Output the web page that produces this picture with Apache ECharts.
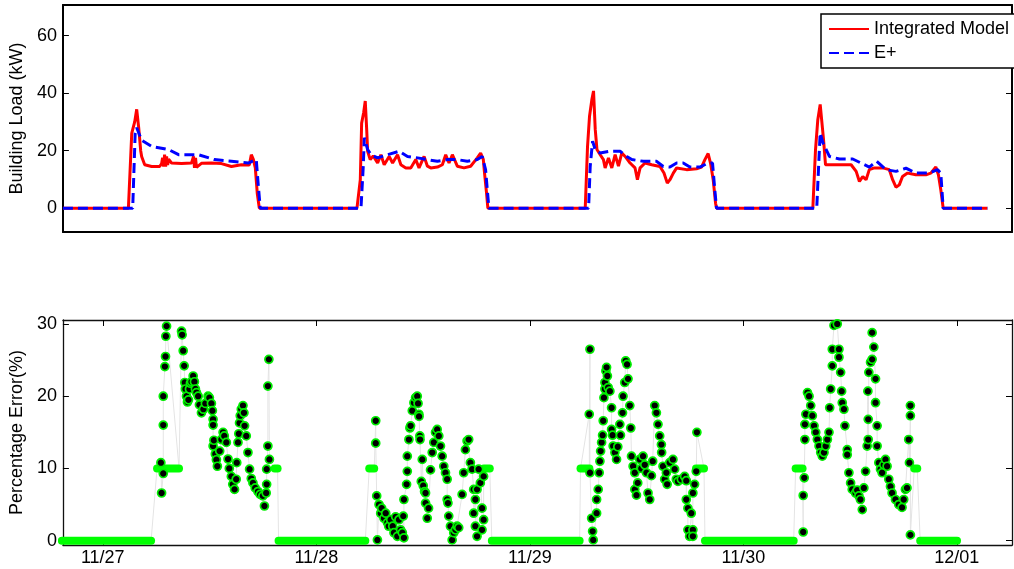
<!DOCTYPE html>
<html><head><meta charset="utf-8">
<script src="https://cdn.jsdelivr.net/npm/echarts@6/dist/echarts.min.js"></script>
<style>html,body{margin:0;padding:0;background:#fff}#c{width:1014px;height:569px}</style>
</head><body><div id="c"></div><script>
// ---- Top panel: building load (kW) vs hours since start ----
const integratedModel = [
 [0,0],[6.88,0],[7.23,26],[7.38,28],[7.54,30],[7.75,34.4],[7.96,28],[8.17,20],[8.27,18],[8.59,15.1],[9.32,14.5],[10.16,14.5],[10.37,15.5],[10.47,17.5],[10.58,14.5],[10.68,18.6],[10.79,14.5],[10.89,18],[11.0,15],[11.10,17],[11.41,15.7],[12.46,15.5],[13.51,15.7],[13.72,18],[13.82,14],[13.93,17.5],[14.03,14.2],[14.55,15.6],[15.60,15.7],[16.65,15.5],[17.70,14.5],[18.74,15.1],[19.58,15],[19.79,18.6],[20.0,17],[20.21,14],[20.42,5],[20.63,0],
 [30.89,0],[31.24,9.9],[31.38,29.6],[31.59,33.2],[31.76,37.3],[31.91,27.4],[32.01,19.8],[32.28,16.9],[32.6,18.2],[33.06,15.7],[33.40,18.6],[33.75,15.1],[34.27,18],[34.63,15.7],[35.15,18.6],[35.50,15.1],[36.02,14],[36.54,14],[37.07,16.9],[37.41,14],[37.94,18],[38.29,14.6],[38.64,14],[39.34,14.3],[39.86,15.1],[40.21,18.6],[40.56,15.7],[40.91,18.6],[41.43,14.6],[42.13,14],[42.83,14.6],[43.53,17.5],[43.88,19.2],[44.16,17],[44.29,12.2],[44.50,5.2],[44.64,0],
 [54.87,0],[55.11,21.5],[55.32,32],[55.57,37.9],[55.74,40.8],[55.92,27.4],[56.10,20.4],[56.44,18.6],[56.78,16.9],[56.96,14],[57.31,17.5],[57.66,14],[58.01,18.6],[58.36,14.6],[58.71,19.2],[59.06,18],[59.58,15.7],[60.10,14],[60.35,9.9],[60.63,14],[61.15,15.7],[61.85,15.1],[62.72,14.5],[63.14,12.2],[63.49,8.7],[63.77,9.9],[64.12,12.2],[64.47,14],[65.51,13.4],[66.56,13.7],[67.09,14.3],[67.44,16.9],[67.78,19],[68.03,15.7],[68.31,9.9],[68.56,1.7],[68.66,0],
 [78.78,0],[79.06,20.4],[79.30,30.8],[79.55,36.1],[79.72,36.7],[79.90,23.9],[80.11,15.1],[80.88,15.1],[81.92,15.1],[82.80,15.1],[83.33,12.8],[83.67,9.3],[84.02,11],[84.37,9.9],[84.71,13.4],[85.24,14],[86.11,14],[86.81,13.4],[87.16,9.9],[87.51,7.3],[87.86,8.1],[88.20,11],[88.73,12.2],[89.60,11.6],[90.65,11.6],[91.17,12.2],[91.70,14.3],[91.97,11.6],[92.22,6.4],[92.47,0],[97.11,0]
];
const energyPlus = [
 [0,0],[7.33,0],[7.59,26],[7.75,28],[8.27,23.6],[9.32,21.5],[11.10,20.4],[12.15,18.6],[14.24,18.6],[15.92,16.9],[17.70,16.3],[19.48,15.7],[20.31,16.9],[20.52,8],[20.73,0],
 [31.31,0],[31.55,14.5],[31.66,24.5],[32.01,20.4],[32.36,18.6],[33.06,17.5],[34.11,18.6],[35.32,19.8],[36.20,18],[37.25,17.5],[38.29,16.9],[39.34,16.3],[40.39,16.9],[41.43,16.9],[42.48,16.3],[43.53,16.9],[44.05,18],[44.40,13.4],[44.58,6.4],[44.75,0],
 [55.22,0],[55.39,14.5],[55.64,23.3],[55.92,20.4],[56.44,19.2],[57.49,19.8],[58.53,19.8],[59.23,18],[59.76,16.9],[60.97,16.3],[62.37,16.3],[63.07,14.5],[63.77,14.3],[64.47,15.7],[65.16,15.7],[65.86,14.3],[66.91,14.3],[67.78,15.7],[68.24,15.7],[68.48,6.4],[68.66,0],
 [79.19,0],[79.40,15.7],[79.55,26.2],[79.82,22.9],[80.52,18],[81.57,17.1],[82.97,17.1],[83.84,15.7],[84.71,14.3],[85.48,16.3],[86.46,13.4],[87.51,12.8],[88.56,13.9],[89.60,12.2],[91.0,12.2],[91.87,13.4],[92.22,12.2],[92.47,0],[97.11,0]
];
const loadTicks = [0, 20, 40, 60];

// ---- Bottom panel: percentage error vs hours since 11/27 00:00 ----
const errorsDay1 = [[6.53,10.8],[6.61,6.6],[6.80,9.3],[6.80,16],[6.80,20],[6.98,24.1],[7.05,25.5],[7.09,28.3],[7.17,29.7],[8.85,29],[8.92,28.5],[9.04,26.3],[9.15,24.2],[9.22,21.9],[9.29,21],[9.41,20],[9.52,19.2],[9.63,19.5],[9.74,21],[9.85,21.8],[9.97,22],[10.16,22.8],[10.30,22],[10.41,21],[10.53,20.5],[10.72,20],[10.86,18.8],[11.09,17.7],[11.31,18.2],[11.53,19],[11.84,20],[11.98,19.8],[12.21,19],[12.32,18],[12.40,16.8],[12.40,16],[12.40,13.1],[12.49,13.9],[12.65,12],[12.77,11.2],[12.88,10.3],[13.14,12.4],[13.33,14],[13.52,15],[13.66,14.5],[13.89,13.6],[14.08,11.3],[14.22,10],[14.45,8.9],[14.61,7.8],[14.81,7.1],[15.0,8.5],[15.06,10.8],[15.20,13.6],[15.29,14.8],[15.37,16.3],[15.45,17.3],[15.57,18.2],[15.76,18.7],[15.87,17.7],[15.94,15.9],[16.13,14.5],[16.32,12.2],[16.50,9.9],[16.69,8.6],[16.88,8],[17.13,7.3],[17.44,6.8],[17.69,6.4],[17.99,6.2],[18.17,4.8],[18.37,6.6],[18.42,7.8],[18.42,9.9],[18.56,13.1],[18.56,21.4],[18.67,25.1],[18.73,11.25]];
const errorsDay2 = [[30.68,16.6],[30.68,13.5],[30.79,6.2],[30.87,0.1],[31.05,5],[31.24,3.8],[31.35,4.5],[31.61,3.1],[31.80,3.8],[31.99,2.5],[32.14,2],[32.36,2.9],[32.59,2],[32.73,1.1],[32.92,3.3],[33.11,0.6],[33.29,2.9],[33.48,1.5],[33.67,1.1],[33.78,3.4],[33.85,0.4],[33.85,5.7],[34.15,7.8],[34.23,9.6],[34.23,11.7],[34.41,14],[34.52,15.6],[34.60,15.9],[34.79,18],[34.97,19.1],[35.16,19.8],[35.35,20],[35.44,19],[35.53,17.5],[35.55,17.2],[35.64,14.5],[35.66,14],[35.80,8.2],[35.91,11.25],[36.02,7.6],[36.17,6.8],[36.28,6.6],[36.28,5.2],[36.47,3.1],[36.62,4.5],[36.84,9.8],[37.03,12.2],[37.21,13.6],[37.40,15],[37.59,15.4],[37.77,14.5],[37.96,13.1],[38.15,11.7],[38.33,10.3],[38.52,9.4],[38.71,8.5],[38.71,5.7],[38.80,5.2],[38.89,3.4],[39.08,2],[39.27,0.1],[39.45,1.1],[39.64,1.5],[39.83,2],[40.01,1.8],[40.39,6.4],[40.57,9.4],[40.76,12.6],[40.95,13.8],[41.13,14],[41.32,10.8],[41.51,9.9],[41.69,7.1],[41.69,3.8],[41.88,5.7],[41.88,2],[42.07,0.6],[42.07,7.1],[42.25,9.9],[42.44,8],[42.63,4.5],[42.63,1.5],[42.81,2.9],[42.81,8.9]];
const errorsDay3 = [[54.68,17.5],[54.76,26.5],[54.76,9.4],[54.95,3.1],[55.06,1.3],[55.13,0.1],[55.51,3.8],[55.51,5.7],[55.69,7.1],[55.80,9.4],[55.88,11],[55.96,12.4],[56.07,13.6],[56.18,14.6],[56.25,16.6],[56.33,19.8],[56.44,21],[56.44,21.9],[56.55,23.5],[56.63,24],[56.72,22.8],[56.81,21.2],[57.0,20.7],[57.19,18.4],[57.19,15.4],[57.30,14.6],[57.37,13.1],[57.56,12.2],[57.75,11.25],[57.89,13],[58.12,16.1],[58.19,14.6],[58.42,17.7],[58.48,20],[58.67,21.9],[58.78,24.9],[58.93,24.4],[59.04,22.4],[59.24,18.7],[59.35,15.6],[59.43,11.7],[59.61,10.3],[59.80,9.4],[59.80,7.1],[59.99,6.3],[60.13,8],[60.36,11.25],[60.53,10],[60.73,11.7],[60.92,10.5],[61.11,9.4],[61.29,6.6],[61.48,5.7],[61.67,9],[61.81,11],[62.04,18.7],[62.23,17.7],[62.41,16.1],[62.60,14.5],[62.79,13.3],[62.82,12.2],[62.97,10.3],[63.16,8.5],[63.35,9.4],[63.44,7.8],[63.72,10.8],[64.09,11.25],[64.28,9.9],[64.47,8.5],[64.65,8.2],[65.03,8.5],[65.40,8.9],[65.59,8.3],[65.59,5.7],[65.77,4.5],[65.77,1.5],[65.96,0.6],[66.15,3.8],[66.33,1.5],[66.33,0.6],[66.33,6.6],[66.52,7.8],[66.71,9.6],[66.78,15]];
const errorsDay4 = [[78.73,1.2],[78.73,6.25],[78.85,8.7],[78.92,14],[78.92,16.1],[79.03,17.5],[79.21,20.5],[79.39,20],[79.58,18.7],[79.76,17.3],[79.95,15.9],[80.14,15],[80.32,14],[80.51,13.1],[80.70,12.2],[80.88,11.7],[81.07,12.2],[81.26,13.1],[81.45,14],[81.63,15],[81.71,18.4],[81.82,21],[82.00,24.2],[82.00,26.5],[82.19,29.8],[82.56,30],[82.75,26.5],[82.75,25.4],[82.94,23.3],[83.05,20.7],[83.12,19.1],[83.31,18.2],[83.42,15.9],[83.68,12.6],[83.68,11.9],[83.87,9.4],[84.06,8],[84.24,7.1],[84.62,6.6],[84.80,7],[84.99,6.2],[85.16,5.7],[85.37,4.3],[85.55,7.3],[85.74,9.6],[85.92,13.1],[86.0,20.7],[86.04,14],[86.04,16.8],[86.11,23.3],[86.30,24.7],[86.48,25.1],[86.48,28.8],[86.67,26.8],[86.86,22.4],[86.86,19.1],[87.04,15.9],[87.04,13.1],[87.23,10.8],[87.42,9.9],[87.60,9.4],[87.79,10.5],[87.98,11.25],[88.16,10.3],[88.35,8.5],[88.54,7.5],[88.72,6.6],[89.10,5.7],[89.47,5],[89.84,4.6],[90.03,5.7],[90.22,7.1],[90.40,7.3],[90.59,14],[90.67,10.8],[90.78,17.3],[90.78,18.7],[90.78,0.8]];
// flat runs of many identical samples: [start hour, end hour, value]
const flatRuns = [[-4.6,5.43,0],[6.10,8.57,10],[19.32,19.65,10],[19.76,29.51,0],[29.95,30.51,10],[42.83,43.50,10],[43.73,53.6,0],[53.70,54.70,10],[66.68,67.58,10],[67.69,77.66,0],[77.88,78.66,10],[91.21,91.55,10],[91.88,96.02,0]];
const errorTicks = [0, 10, 20, 30];
const dayTicks = [0, 24, 48, 72, 96];
const dayLabels = ['11/27', '11/28', '11/29', '11/30', '12/01'];

const FONT = "'Liberation Sans', Arial, Helvetica, sans-serif";
const errors = [].concat(errorsDay1, errorsDay2, errorsDay3, errorsDay4);
const traceLine = errors.concat(flatRuns.flatMap(r => [[r[0], r[2]], [r[1], r[2]]])).sort((a, b) => a[0] - b[0]);

const topLine = {show: true, onZero: false, lineStyle: {color: '#000', width: 2}};
const botLine = {show: true, onZero: false, lineStyle: {color: '#111', width: 1.3}};
const noTick = {show: false};
const noLabel = {show: false};
const labelStyle = {color: '#000', fontSize: 18, fontFamily: FONT};
const tick = vals => ({show: true, inside: true, length: 6, customValues: vals, lineStyle: {color: '#000', width: 1}});

const chart = echarts.init(document.getElementById('c'), null, {renderer: 'canvas'});
const flatSeries = flatRuns.map(r => ({
  type: 'line', xAxisIndex: 2, yAxisIndex: 2, data: [[r[0], r[2]], [r[1], r[2]]],
  symbol: 'none', silent: true, animation: false, z: 3,
  lineStyle: {color: '#00ff00', width: 8, cap: 'round'}
}));

chart.setOption({
  animation: false,
  backgroundColor: '#fff',
  grid: [
    {left: 61, top: 5, width: 951, height: 227},
    {left: 61, top: 320, width: 951, height: 225}
  ],
  legend: {
    data: ['Integrated Model', 'E+'], orient: 'vertical', left: 821, top: 14,
    itemWidth: 40, itemHeight: 14, itemGap: 6, padding: [6, 6, 6, 7],
    itemStyle: {opacity: 0},
    borderColor: '#000', borderWidth: 1.5, backgroundColor: '#fff',
    textStyle: {color: '#000', fontSize: 18, fontFamily: FONT}
  },
  xAxis: [
    {gridIndex: 0, type: 'value', min: 0, max: 99.7, axisLine: topLine, axisTick: noTick, axisLabel: noLabel, splitLine: {show: false}},
    {gridIndex: 0, type: 'value', position: 'top', min: 0, max: 99.7, axisLine: topLine, axisTick: noTick, axisLabel: noLabel, splitLine: {show: false}},
    {gridIndex: 1, type: 'value', min: -4.48, max: 102.2, axisLine: botLine, axisTick: tick(dayTicks),
      axisLabel: Object.assign({customValues: dayTicks, margin: 4, formatter: v => dayLabels[dayTicks.indexOf(Math.round(v))] || ''}, labelStyle),
      splitLine: {show: false}},
    {gridIndex: 1, type: 'value', position: 'top', min: -4.48, max: 102.2, axisLine: botLine, axisTick: tick(dayTicks),
      axisLabel: noLabel, splitLine: {show: false}}
  ],
  yAxis: [
    {gridIndex: 0, type: 'value', min: -8.3, max: 70.7, axisLine: topLine, axisTick: tick(loadTicks),
      axisLabel: Object.assign({customValues: loadTicks, margin: 6}, labelStyle),
      splitLine: {show: false},
      name: 'Building Load (kW)', nameLocation: 'middle', nameGap: 35, nameRotate: 90,
      nameTextStyle: {color: '#000', fontSize: 18, fontFamily: FONT}},
    {gridIndex: 0, type: 'value', position: 'right', min: -8.3, max: 70.7, axisLine: topLine, axisTick: tick(loadTicks),
      axisLabel: noLabel, splitLine: {show: false}},
    {gridIndex: 1, type: 'value', min: -0.6, max: 30.55, axisLine: botLine, axisTick: tick(errorTicks),
      axisLabel: Object.assign({customValues: errorTicks, margin: 6}, labelStyle),
      splitLine: {show: false},
      name: 'Percentage Error(%)', nameLocation: 'middle', nameGap: 35, nameRotate: 90,
      nameTextStyle: {color: '#000', fontSize: 18, fontFamily: FONT}},
    {gridIndex: 1, type: 'value', position: 'right', min: -0.6, max: 30.55, axisLine: botLine, axisTick: tick(errorTicks),
      axisLabel: noLabel, splitLine: {show: false}}
  ],
  series: [
    {name: 'Integrated Model', type: 'line', xAxisIndex: 0, yAxisIndex: 0, data: integratedModel,
      symbol: 'none', z: 2, lineStyle: {color: '#ff0000', width: 3}, itemStyle: {color: '#ff0000'}},
    {name: 'E+', type: 'line', xAxisIndex: 0, yAxisIndex: 0, data: energyPlus,
      symbol: 'none', z: 3, lineStyle: {color: '#0000ff', width: 3, type: [10, 5]}, itemStyle: {color: '#0000ff'}},
    {type: 'line', xAxisIndex: 2, yAxisIndex: 2, data: traceLine, symbol: 'none', silent: true, z: 1,
      lineStyle: {color: '#e4e4e4', width: 1}}
  ].concat(flatSeries, [
    {type: 'scatter', xAxisIndex: 2, yAxisIndex: 2, data: errors, symbol: 'circle', symbolSize: 8, z: 4,
      itemStyle: {color: '#000', borderColor: '#00ee00', borderWidth: 1.7, opacity: 1}}
  ])
});
</script></body></html>
